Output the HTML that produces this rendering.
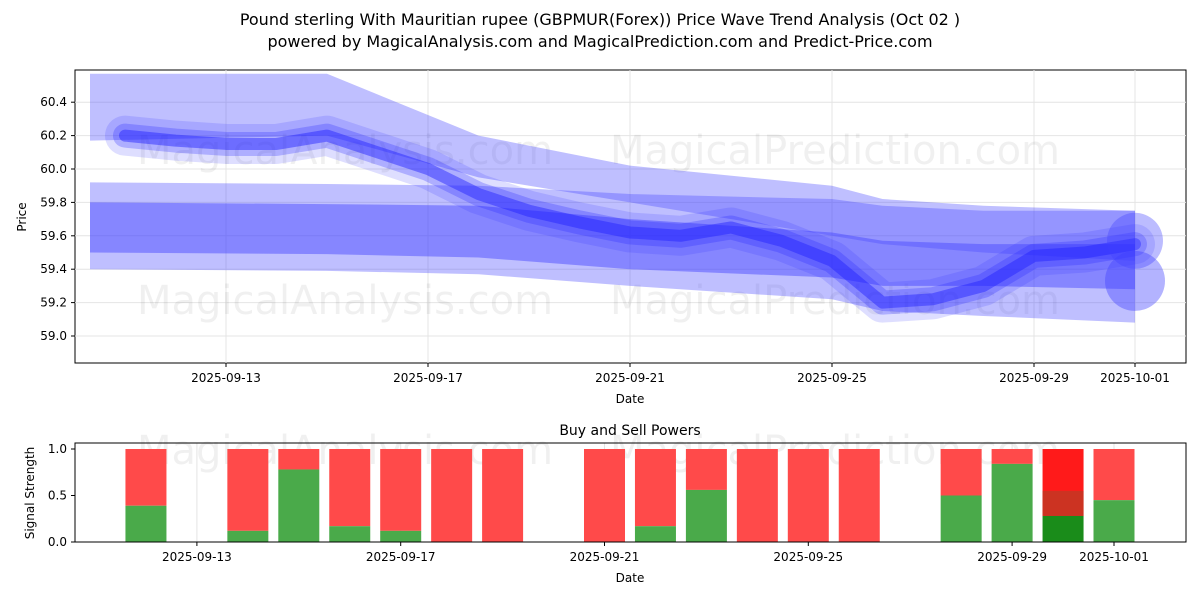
<!DOCTYPE html>
<html><head><meta charset="utf-8"><style>
body{margin:0;background:#fff;font-family:"Liberation Sans","DejaVu Sans",sans-serif}
svg text{font-family:"DejaVu Sans","Liberation Sans",sans-serif}
</style></head><body>
<svg id="c" width="1200" height="600" xmlns="http://www.w3.org/2000/svg">
<rect width="1200" height="600" fill="#fff"/>
<text x="600" y="25" font-size="16" text-anchor="middle">Pound sterling With Mauritian rupee (GBPMUR(Forex)) Price Wave Trend Analysis (Oct 02 )</text>
<text x="600" y="47" font-size="16" text-anchor="middle">powered by MagicalAnalysis.com and MagicalPrediction.com and Predict-Price.com</text>
<g id="topg"></g><g id="botg"></g>
</svg>
<script>
const dayOffsets=[0,1,2,3,4,5,6,7,8,9,10,11,12,13,14,15,16,17,18,19,20];
const centerVals=[60.2,60.17,60.15,60.15,60.2,60.1,60.0,59.85,59.75,59.68,59.62,59.6,59.65,59.57,59.45,59.2,59.22,59.3,59.48,59.5,59.55];
const bandDays=[0,4,7,10,14,15,17,20];
const bandAUp=[59.8,59.79,59.78,59.7,59.62,59.57,59.55,59.55];
const bandALo=[59.5,59.49,59.47,59.4,59.35,59.3,59.3,59.28];
const bandBUp=[59.92,59.91,59.9,59.85,59.82,59.78,59.75,59.75];
const bandBLo=[59.4,59.39,59.37,59.3,59.22,59.15,59.12,59.08];
const bandCUp=[60.57,60.57,60.2,60.02,59.9,59.82,59.78,59.75];
const bandCLo=[60.17,60.2,59.95,59.8,59.6,59.55,59.5,59.45];
const priceTicks=[59.0,59.2,59.4,59.6,59.8,60.0,60.2,60.4];
const dateTicks=["2025-09-13","2025-09-17","2025-09-21","2025-09-25","2025-09-29","2025-10-01"];
const dateTickDays=[2,6,10,14,18,20];
const barDays=[1,3,4,5,6,7,8,10,11,12,13,14,15,17,18,19,20];
const buyVals=[0.39,0.12,0.78,0.17,0.12,0,0,0,0.17,0.56,0,0,0,0.5,0.84,0.28,0.45];
const strengthTicks=[0.0,0.5,1.0];
const NS="http://www.w3.org/2000/svg";
const X=d=>125+d*50.5, XB=d=>95+d*50.95, Y=v=>336-(v-59)*167, YB=v=>542-v*93;
function el(p,t,a){const e=document.createElementNS(NS,t);for(const k in a)e.setAttribute(k,a[k]);p.appendChild(e);return e;}
const topG=document.getElementById('topg'),botG=document.getElementById('botg');
let f=el(topG,'rect',{x:75,y:70,width:1111,height:293,fill:'none',stroke:'#000'});


priceTicks.forEach(v=>{el(topG,'line',{x1:75,x2:1186,y1:Y(v),y2:Y(v),stroke:'#e4e4e4'});
 el(topG,'line',{x1:71,x2:75,y1:Y(v),y2:Y(v),stroke:'#000'});
 const t=el(topG,'text',{x:67,y:Y(v)+4,'font-size':12,'text-anchor':'end'});t.textContent=v.toFixed(1);
 
 });
dateTicks.forEach((s,i)=>{const x=X(dateTickDays[i]);
 el(topG,'line',{x1:x,x2:x,y1:70,y2:363,stroke:'#e4e4e4'});el(topG,'line',{x1:x,x2:x,y1:363,y2:367,stroke:'#000'});
 const t=el(topG,'text',{x:x,y:382,'font-size':12,'text-anchor':'middle'});t.textContent=s;
 
 
 const xb=XB(dateTickDays[i]);
 el(botG,'line',{x1:xb,x2:xb,y1:443,y2:542,stroke:'#e4e4e4'});el(botG,'line',{x1:xb,x2:xb,y1:542,y2:546,stroke:'#000'});
 const t2=el(botG,'text',{x:xb,y:561,'font-size':12,'text-anchor':'middle'});t2.textContent=s;
 
 });
[[345,150,'MagicalAnalysis.com'],[835,150,'MagicalPrediction.com'],[345,300,'MagicalAnalysis.com'],[835,300,'MagicalPrediction.com'],[345,450,'MagicalAnalysis.com'],[835,450,'MagicalPrediction.com']].forEach(w=>{
 const t=el(topG,'text',{x:w[0],y:w[1]+14,'font-size':40,'text-anchor':'middle',fill:'#000','fill-opacity':0.06});t.textContent=w[2];
 
 });
function band(up,lo,col,op,name){let pts=bandDays.map((d,i)=>[d===0?90:X(d),Y(up[i])]);
 let pl=bandDays.map((d,i)=>[d===0?90:X(d),Y(lo[i])]).reverse();
 const p=el(topG,'polygon',{points:pts.concat(pl).map(p=>p.join(',')).join(' '),fill:col,'fill-opacity':op});
 
 }
band(bandBUp,bandBLo,'#4848ff',0.35,'outer-lower-band');
band(bandAUp,bandALo,'#4040ff',0.45,'inner-lower-band');
band(bandCUp,bandCLo,'#4848ff',0.35,'upper-band');
const toPts=pts=>pts.map(p=>p.join(',')).join(' ');
const cp=dayOffsets.map((d,i)=>[X(d),Y(centerVals[i])]);
[[40,0.15],[24,0.25],[12,0.45]].forEach(s=>{const l=el(topG,'polyline',{points:toPts(cp),fill:'none',stroke:'#2020ff','stroke-width':s[0],'stroke-opacity':s[1],'stroke-linejoin':'round','stroke-linecap':'round'});
 
 });
const c1=el(topG,'circle',{cx:X(20),cy:Y(59.33),r:30,fill:'#4040ff','fill-opacity':0.4});


const c2=el(topG,'circle',{cx:X(20),cy:Y(59.57),r:28,fill:'#4040ff','fill-opacity':0.35});


const xl=el(topG,'text',{x:630,y:403,'font-size':12,'text-anchor':'middle'});xl.textContent='Date';
const yl=el(topG,'text',{x:26,y:217,'font-size':12,'text-anchor':'middle',transform:'rotate(-90 26 217)'});yl.textContent='Price';
const bt=el(botG,'text',{x:630,y:435,'font-size':14,'text-anchor':'middle'});bt.textContent='Buy and Sell Powers';
strengthTicks.forEach(v=>{el(botG,'line',{x1:71,x2:75,y1:YB(v),y2:YB(v),stroke:'#000'});
 const t=el(botG,'text',{x:67,y:YB(v)+4,'font-size':12,'text-anchor':'end'});t.textContent=v.toFixed(1);
 
 });
barDays.forEach((d,i)=>{const x=XB(d)-20.5,g=buyVals[i];const last=d===19;
 const r=el(botG,'rect',{x:x,y:YB(1),width:41,height:YB(g)-YB(1),fill:last?'#ff1a1a':'#ff4a4a'});
 
 
 if(last){const r3=el(botG,'rect',{x:x,y:YB(0.55),width:41,height:YB(g)-YB(0.55),fill:'#cc3322'});
  
  }
 const r2=el(botG,'rect',{x:x,y:YB(g),width:41,height:YB(0)-YB(g),fill:last?'#1a8c1a':'#4aaa4a'});
 
 });
el(botG,'rect',{x:75,y:443,width:1111,height:99,fill:'none',stroke:'#000'});
const t3=el(botG,'text',{x:630,y:582,'font-size':12,'text-anchor':'middle'});t3.textContent='Date';
const yl2=el(botG,'text',{x:34,y:493,'font-size':12,'text-anchor':'middle',transform:'rotate(-90 34 493)'});yl2.textContent='Signal Strength';
</script>
</body></html>
